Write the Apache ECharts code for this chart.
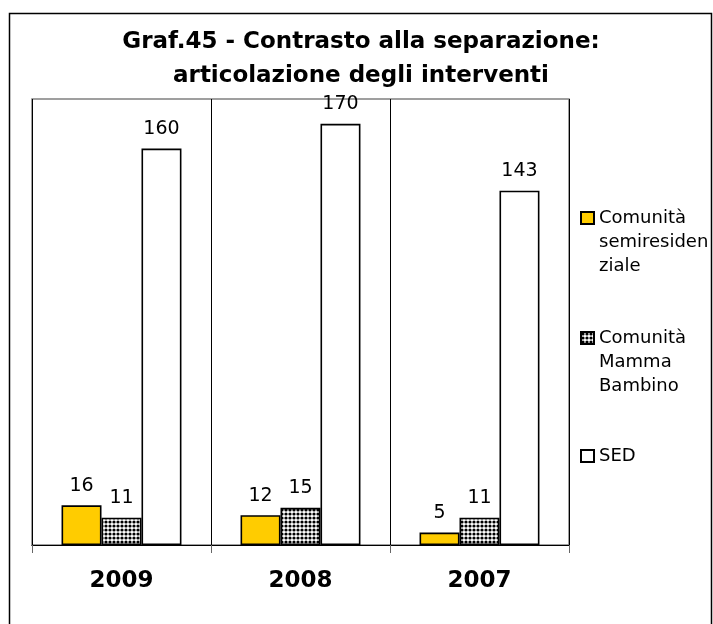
<!DOCTYPE html>
<html>
<head>
<meta charset="utf-8">
<script src="https://cdn.jsdelivr.net/npm/echarts@6/dist/echarts.min.js"></script>
<style>
  html, body { margin: 0; padding: 0; background: #fff; }
  #chart { width: 713px; height: 624px; }
</style>
</head>
<body>
<div id="chart"></div>
<script>
// Interventions by year
const years = ['2009', '2008', '2007'];
const semiresidenziale = [16, 12, 5];
const mammaBambino = [11, 15, 11];
const sed = [160, 170, 143];

const seriesNames = ['Comunità semiresidenziale', 'Comunità Mamma Bambino', 'SED'];
// wrapped legend text; leading empty lines keep the icon beside the first line
const legendText = {
  'Comunità semiresidenziale': '\n\nComunità\nsemiresiden\nziale',
  'Comunità Mamma Bambino': '\n\nComunità\nMamma\nBambino',
  'SED': 'SED'
};

// small dotted fill pattern
function dotPattern() {
  const c = document.createElement('canvas');
  c.width = 4; c.height = 4;
  const ctx = c.getContext('2d');
  ctx.fillStyle = '#fff';
  ctx.fillRect(0, 0, 4, 4);
  ctx.fillStyle = '#000';
  ctx.beginPath();
  ctx.arc(2, 2, 1.6, 0, Math.PI * 2);
  ctx.fill();
  return c;
}

const FONT = 'DejaVu Sans, Verdana, sans-serif';
const chart = echarts.init(document.getElementById('chart'), null, { renderer: 'canvas' });

const barLabel = {
  show: true,
  position: 'top',
  distance: 10,
  color: '#000',
  fontFamily: FONT,
  fontSize: 19
};
const barItem = (fill) => ({ color: fill, borderColor: '#000', borderWidth: 1.6 });

function legendAt(name, top) {
  return {
    data: [name],
    orient: 'vertical',
    left: 580,
    top: top,
    padding: 0,
    icon: 'rect',
    itemWidth: 13,
    itemHeight: 12,
    selectedMode: false,
    formatter: (n) => legendText[n],
    textStyle: { fontFamily: FONT, fontSize: 18, lineHeight: 24, color: '#000' }
  };
}

chart.setOption({
  animation: false,
  backgroundColor: '#fff',
  title: {
    text: 'Graf.45 - Contrasto alla separazione:\narticolazione degli interventi',
    left: 361,
    top: 25,
    padding: 0,
    textAlign: 'center',
    textStyle: { fontFamily: FONT, fontWeight: 'bold', fontSize: 23, lineHeight: 34, color: '#000' }
  },
  graphic: [{
    type: 'rect',
    silent: true,
    shape: { x: 9.5, y: 13.5, width: 702, height: 700 },
    style: { fill: null, stroke: '#000', lineWidth: 1.5 }
  }],
  legend: [
    legendAt(seriesNames[0], 218 - 60),
    legendAt(seriesNames[1], 338 - 60),
    legendAt(seriesNames[2], 456 - 12)
  ],
  grid: {
    left: 32, top: 99, right: 144, bottom: 79,
    show: true,
    borderColor: '#808080',
    borderWidth: 1.5,
    containLabel: false
  },
  xAxis: {
    type: 'category',
    data: years,
    axisLine: { lineStyle: { color: '#000', width: 1.2 } },
    axisTick: { show: true, length: 8, lineStyle: { color: '#666', width: 1 } },
    splitLine: { show: true, lineStyle: { color: '#000', width: 1 } },
    axisLabel: { margin: 25, color: '#000', fontFamily: FONT, fontWeight: 'bold', fontSize: 23 }
  },
  yAxis: {
    type: 'value',
    min: 0,
    max: 180,
    show: false,
    splitLine: { show: false }
  },
  series: [
    {
      name: seriesNames[0], type: 'bar', data: semiresidenziale,
      barGap: '0%', barCategoryGap: '33%',
      itemStyle: barItem('#FFCC00'), label: barLabel
    },
    {
      name: seriesNames[1], type: 'bar', data: mammaBambino,
      itemStyle: barItem({ image: dotPattern(), repeat: 'repeat' }), label: barLabel
    },
    {
      name: seriesNames[2], type: 'bar', data: sed,
      itemStyle: barItem('#FFFFFF'), label: barLabel
    }
  ]
});
</script>
</body>
</html>
